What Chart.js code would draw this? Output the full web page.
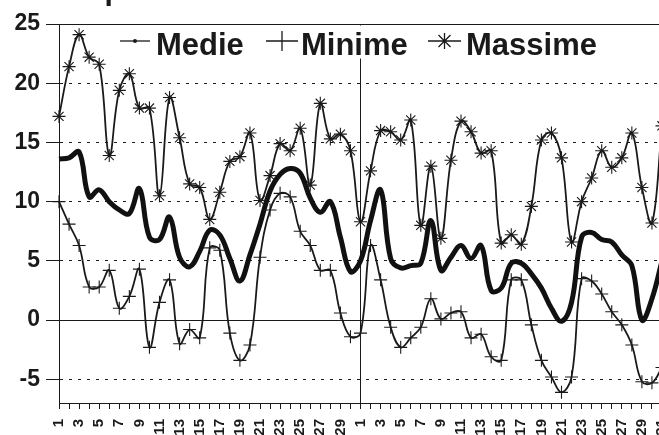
<!DOCTYPE html>
<html><head><meta charset="utf-8">
<script src="https://cdn.jsdelivr.net/npm/chart.js@4/dist/chart.umd.min.js"></script>
<style>
html,body{margin:0;padding:0;overflow:hidden;background:#fff;width:659px;height:435px}
#wrap{position:absolute;left:0;top:0;width:680px;height:435px}
</style>
</head><body><div id="wrap"><canvas id="c" width="680" height="435"></canvas></div>
<script>
// Categories: days of two consecutive months (30 + 31 days)
const daysMonth1 = [1,2,3,4,5,6,7,8,9,10,11,12,13,14,15,16,17,18,19,20,21,22,23,24,25,26,27,28,29,30];
const daysMonth2 = [1,2,3,4,5,6,7,8,9,10,11,12,13,14,15,16,17,18,19,20,21,22,23,24,25,26,27,28,29,30,31];
const categories = daysMonth1.concat(daysMonth2);

const seriesNames = ["Medie", "Minime", "Massime"];

const medie = [13.6,13.7,14.2,10.4,11.0,10.0,9.3,9.0,11.1,7.0,6.8,8.7,5.3,4.5,5.8,7.6,7.2,5.2,3.3,5.5,8.1,10.9,12.3,12.8,12.4,10.3,9.1,10.0,7.0,4.1,
  5.0,8.4,11.0,5.2,4.4,4.6,4.8,8.4,4.2,5.3,6.3,5.2,6.3,2.5,2.7,4.8,4.8,3.9,2.7,1.0,-0.1,1.5,7.0,7.4,6.8,6.6,5.5,4.6,0.0,1.8,5.0];

const minime = [10.0,8.1,6.3,2.8,2.8,4.2,1.0,2.0,4.3,-2.3,1.5,3.4,-2.0,-0.8,-1.5,6.1,5.9,-1.1,-3.4,-2.1,5.3,9.3,10.7,10.4,7.5,6.3,4.2,4.2,0.6,-1.4,
  -1.1,6.3,3.4,-0.6,-2.3,-1.5,-0.6,1.8,0.1,0.6,0.7,-1.5,-1.2,-3.1,-3.4,3.4,3.4,-0.4,-3.4,-4.8,-6.1,-4.8,3.5,3.3,2.2,0.7,-0.4,-2.1,-5.2,-5.3,-4.0];

const massime = [17.2,21.4,24.1,22.2,21.6,13.9,19.4,20.8,17.9,17.9,10.5,18.8,15.4,11.5,11.2,8.5,10.8,13.4,13.8,15.8,10.1,12.2,14.9,14.3,16.2,11.4,18.3,15.3,15.7,14.3,
  8.3,12.6,16.0,15.9,15.2,16.9,8.0,13.0,6.9,13.5,16.8,15.9,14.1,14.3,6.5,7.2,6.4,9.6,15.2,15.8,13.7,6.6,10.0,12.0,14.3,12.9,13.7,15.8,11.2,8.2,16.4];

const yTickValues = [-5, 0, 5, 10, 15, 20, 25];
const titleText = "Temperature";

const INK = '#1a1a1a';
const FONT = "'Liberation Sans', Arial, sans-serif";

const decor = {
  id: 'decor',
  beforeDatasetsDraw(chart) {
    const {ctx, chartArea: a, scales: {y}} = chart;
    ctx.save();
    ctx.strokeStyle = INK;
    ctx.lineWidth = 1;
    const y0 = Math.round(y.getPixelForValue(0)) + 0.5;
    ctx.beginPath(); ctx.moveTo(a.left, y0); ctx.lineTo(a.right, y0); ctx.stroke();
    const yt = Math.round(y.getPixelForValue(25)) + 0.5;
    ctx.beginPath(); ctx.moveTo(a.left, yt); ctx.lineTo(a.right, yt); ctx.stroke();
    ctx.restore();
  },
  afterDraw(chart) {
    const {ctx, chartArea: a} = chart;
    ctx.save();
    // legend box
    ctx.fillStyle = '#fff';
    ctx.fillRect(112, a.top + 1.5, 495, 33);
    ctx.strokeStyle = INK;
    ctx.fillStyle = INK;
    ctx.lineWidth = 1.3;
    const cy = 41;
    // Medie symbol
    ctx.beginPath(); ctx.moveTo(120, cy); ctx.lineTo(150, cy); ctx.stroke();
    ctx.beginPath(); ctx.arc(135, cy, 2, 0, Math.PI * 2); ctx.fill();
    // Minime symbol
    ctx.beginPath(); ctx.moveTo(266, cy); ctx.lineTo(298, cy);
    ctx.moveTo(282, cy - 10); ctx.lineTo(282, cy + 10); ctx.stroke();
    // Massime symbol
    ctx.beginPath(); ctx.moveTo(428, cy); ctx.lineTo(461, cy);
    ctx.moveTo(444.5, cy - 8); ctx.lineTo(444.5, cy + 8);
    ctx.moveTo(438.5, cy - 6); ctx.lineTo(450.5, cy + 6);
    ctx.moveTo(450.5, cy - 6); ctx.lineTo(438.5, cy + 6);
    ctx.stroke();
    ctx.font = "bold 31px " + FONT;
    ctx.textBaseline = 'alphabetic';
    ctx.textAlign = 'left';
    ctx.fillText(seriesNames[0], 156, 55);
    ctx.fillText(seriesNames[1], 301, 55);
    ctx.fillText(seriesNames[2], 466, 55);
    // title (mostly above the visible area, as in the reference)
    ctx.font = "bold 30px " + FONT;
    const w = ctx.measureText("Tem").width;
    ctx.fillText(titleText, 104.5 - w, 0);
    ctx.restore();
  }
};

new Chart(document.getElementById('c'), {
  type: 'line',
  data: {
    labels: categories,
    datasets: [
      { label: seriesNames[2], data: massime, borderColor: INK, borderWidth: 1.8, tension: 0.4,
        pointStyle: 'star', pointRadius: 6.5, pointBorderWidth: 1.1, pointBorderColor: INK, pointBackgroundColor: INK, fill: false },
      { label: seriesNames[1], data: minime, borderColor: INK, borderWidth: 1.8, tension: 0.4,
        pointStyle: 'cross', pointRadius: 6.5, pointBorderWidth: 1.1, pointBorderColor: INK, pointBackgroundColor: INK, fill: false },
      { label: seriesNames[0], data: medie, borderColor: '#111', borderWidth: 5, tension: 0.4,
        pointRadius: 0, fill: false }
    ]
  },
  options: {
    responsive: false,
    animation: false,
    devicePixelRatio: 1,
    layout: { padding: { top: 24, right: 18, left: 0, bottom: 0 } },
    plugins: { legend: { display: false }, tooltip: { enabled: false }, title: { display: false } },
    scales: {
      x: {
        type: 'category',
        grid: {
          color: (c) => (c.index === 30 ? INK : 'rgba(0,0,0,0)'),
          tickColor: INK, tickLength: 6, lineWidth: 1, drawOnChartArea: true, drawTicks: true
        },
        border: { display: true, color: INK, width: 1 },
        ticks: {
          autoSkip: false, maxRotation: 90, minRotation: 90, padding: 10, color: INK,
          font: { family: FONT, weight: 'bold', size: 15 },
          callback: function (v, i) { return i % 2 === 0 ? String(this.getLabelForValue(v)) : ''; }
        },
        afterFit: (s) => { s.height = 32; s.paddingLeft = 0; s.paddingRight = 0; }
      },
      y: {
        min: -7, max: 25,
        afterBuildTicks: (s) => { s.ticks = yTickValues.map(v => ({ value: v })); },
        grid: {
          color: (c) => (c.tick && (c.tick.value === 0 || c.tick.value === 25) ? 'rgba(0,0,0,0)' : INK),
          tickColor: INK, tickLength: 13, lineWidth: 1
        },
        border: { display: true, color: INK, width: 1, dash: [3, 6] },
        ticks: { color: INK, padding: 6, font: { family: FONT, weight: 'bold', size: 23 } },
        afterFit: (s) => { s.width = 59; }
      }
    }
  },
  plugins: [decor]
});
</script>
</body></html>
